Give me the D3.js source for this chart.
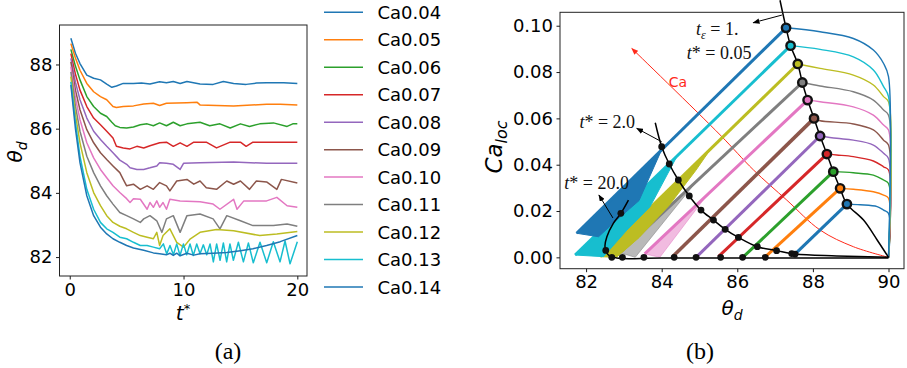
<!DOCTYPE html>
<html>
<head>
<meta charset="utf-8">
<script src="https://cdn.jsdelivr.net/npm/d3@7"></script>
<style>
body { margin: 0; background: #fff; }
svg { font-family: "DejaVu Sans", sans-serif; }
</style>
</head>
<body>
<div id="chart"></div>
<script>
const W = 907, H = 368;

const caLabels = ['Ca0.04', 'Ca0.05', 'Ca0.06', 'Ca0.07', 'Ca0.08', 'Ca0.09', 'Ca0.10', 'Ca0.11', 'Ca0.12', 'Ca0.13', 'Ca0.14'];
const colors = ['#1f77b4', '#ff7f0e', '#2ca02c', '#d62728', '#9467bd', '#8c564b', '#e377c2', '#7f7f7f', '#bcbd22', '#17becf', '#1f77b4'];

// (a) theta_d vs t*   [t*, theta_d]
const th04 = [[0.1,88.82],[0.5,88.35],[0.9,88.03],[1.5,87.67],[2.1,87.57],[2.7,87.52],[3.25,87.39],[3.7,87.29],[4.1,87.33],[4.7,87.41],[5.6,87.41],[6.3,87.42],[7.05,87.39],[7.9,87.46],[8.5,87.43],[9.1,87.47],[9.7,87.41],[10.3,87.47],[11.45,87.39],[12.6,87.38],[13.5,87.47],[14.4,87.41],[15.5,87.38],[16.4,87.42],[17.3,87.43],[18.8,87.43],[20,87.41]];
const th05 = [[0.1,88.65],[0.5,88.2],[0.9,87.82],[1.5,87.41],[2.1,87.15],[2.7,87.0],[3.25,86.9],[3.8,86.69],[4.1,86.66],[4.7,86.69],[5.6,86.71],[6.5,86.77],[7.35,86.79],[7.9,86.72],[8.5,86.79],[10.3,86.81],[11.2,86.82],[11.45,86.74],[14.4,86.71],[17.3,86.76],[18.5,86.76],[20,86.74]];
const th06 = [[0.1,88.47],[0.5,87.95],[0.9,87.52],[1.5,87.0],[2.1,86.69],[2.7,86.48],[3.25,86.38],[3.7,86.2],[4.0,86.09],[4.4,86.04],[5.0,86.02],[5.6,86.05],[6.2,86.12],[6.8,86.15],[7.35,86.09],[7.9,86.18],[8.5,86.09],[9.1,86.2],[9.7,86.09],[10.3,86.15],[11.45,86.2],[12.3,86.09],[13.2,86.15],[14.1,86.02],[15.0,86.15],[15.8,86.07],[16.7,86.15],[17.9,86.18],[19.1,86.07],[19.6,86.15],[20,86.15]];
const th07 = [[0.1,88.34],[0.5,87.7],[0.9,87.2],[1.5,86.69],[2.1,86.33],[2.7,86.12],[3.25,85.92],[3.8,85.71],[4.1,85.45],[4.7,85.4],[5.3,85.37],[5.9,85.45],[6.5,85.4],[7.05,85.47],[7.9,85.56],[8.5,85.58],[9.1,85.45],[9.7,85.56],[10.3,85.45],[10.9,85.58],[12.0,85.58],[12.9,85.4],[14.1,85.58],[15.0,85.58],[15.5,85.45],[16.1,85.58],[20,85.58]];
const th08 = [[0.1,88.19],[0.5,87.45],[0.9,86.9],[1.5,86.33],[2.1,85.92],[2.7,85.66],[3.25,85.45],[3.8,85.25],[4.4,85.02],[5.0,84.89],[5.3,84.78],[5.9,84.73],[6.5,84.73],[7.05,84.78],[7.65,84.84],[7.9,84.94],[8.5,84.92],[9.1,84.89],[9.7,84.73],[10.0,84.92],[11.45,84.94],[14.4,84.96],[17.3,84.92],[20,84.92]];
const th09 = [[0.1,88.08],[0.5,87.2],[0.9,86.59],[1.5,85.97],[2.1,85.56],[2.7,85.25],[3.25,85.04],[3.8,84.84],[4.4,84.63],[4.7,84.42],[5.0,84.22],[5.6,84.27],[6.2,84.11],[6.8,84.22],[7.35,84.11],[7.9,84.32],[8.5,84.22],[8.8,84.06],[9.4,84.37],[10.3,84.42],[10.9,84.27],[11.45,84.37],[12.0,84.16],[12.9,84.11],[13.8,84.37],[14.4,84.27],[15.0,84.37],[15.8,84.11],[16.4,84.37],[17.3,84.34],[18.2,84.11],[18.6,84.42],[20,84.31]];
const th10 = [[0.1,87.93],[0.5,86.95],[0.9,86.28],[1.5,85.56],[2.1,85.09],[2.7,84.73],[3.25,84.47],[3.8,84.22],[4.4,84.01],[5.0,83.82],[5.3,83.7],[5.6,83.82],[6.2,83.8],[6.8,83.49],[7.05,83.7],[7.35,83.55],[7.65,83.75],[7.9,83.55],[8.2,83.7],[8.5,83.49],[8.8,83.8],[9.7,83.75],[11.45,83.72],[12.6,83.65],[13.2,83.49],[14.4,83.8],[14.7,83.49],[15.3,83.75],[17.3,83.75],[18.2,83.86],[19.1,83.6],[20,83.55]];
const th11 = [[0.1,87.77],[0.5,86.7],[0.9,85.92],[1.5,85.14],[2.1,84.63],[2.7,84.22],[3.25,83.91],[3.8,83.65],[4.4,83.39],[5.0,83.29],[5.6,83.19],[6.2,83.08],[6.5,83.19],[7.05,83.29],[7.65,83.13],[8.1,82.77],[8.5,83.19],[9.1,83.29],[9.7,82.77],[10.3,83.29],[11.45,83.34],[12.6,83.19],[13.2,82.88],[13.8,83.29],[15.0,83.13],[16.1,82.98],[17.9,82.98],[19.1,83.03],[20,82.96]];
const th12 = [[0.1,87.62],[0.5,86.45],[0.9,85.56],[1.5,84.63],[2.1,84.01],[2.7,83.6],[3.25,83.29],[3.8,83.08],[4.4,82.96],[5.0,82.88],[5.6,82.77],[6.2,82.67],[6.8,82.62],[7.35,82.57],[7.65,82.77],[7.9,82.36],[8.2,82.67],[8.8,82.88],[9.4,82.46],[10.0,82.31],[10.6,82.57],[11.45,82.77],[12.9,82.86],[14.4,82.82],[16.7,82.67],[18.2,82.72],[20,82.8]];
const th13 = [[0.1,87.46],[0.5,86.2],[0.9,85.14],[1.5,84.11],[2.1,83.49],[2.7,83.08],[3.25,82.88],[3.8,82.77],[4.4,82.62],[5.0,82.57],[5.6,82.46],[6.2,82.36],[6.8,82.36],[7.35,82.31],[7.9,82.26],[8.23,82.41],[8.52,82.1],[8.81,82.36],[9.11,82.07],[9.4,82.41],[9.69,82.05],[9.99,82.41],[10.28,82.07],[10.57,82.41],[10.86,82.05],[11.16,82.41],[11.45,82.1],[11.74,82.38],[12.04,82.07],[12.33,82.41],[12.62,81.85],[12.91,82.41],[13.21,81.9],[13.5,82.44],[13.79,81.85],[14.08,82.41],[14.38,81.9],[14.82,82.46],[15.26,81.85],[15.7,82.44],[16.13,81.82],[16.72,82.46],[17.31,81.82],[17.89,82.48],[18.48,81.85],[18.92,82.5],[19.36,81.79],[20,82.48]];
const th14 = [[0.1,87.36],[0.5,86.0],[0.9,84.94],[1.5,83.91],[2.1,83.29],[2.7,82.93],[3.25,82.72],[3.8,82.57],[4.4,82.46],[5.0,82.36],[5.6,82.28],[6.5,82.21],[7.35,82.13],[7.9,82.1],[8.5,82.07],[8.8,82.12],[9.1,82.05],[9.4,82.12],[9.7,82.04],[10.3,82.12],[10.9,82.06],[11.45,82.1],[12.6,82.12],[13.8,82.14],[15.0,82.2],[16.1,82.26],[17.3,82.36],[18.5,82.48],[20,82.67]];
const thetaSeries = [th04, th05, th06, th07, th08, th09, th10, th11, th12, th13, th14];

// (b) Ca_loc vs theta_d   [theta_d, Ca_loc]
const head04 = [[90,0],[90,0.019],[89.87,0.0204],[89.7,0.0219],[89.25,0.0227],[88.9,0.023]];
const head05 = [[90,0],[90,0.0255],[89.87,0.0269],[89.6,0.0283],[89.07,0.0294],[88.72,0.0298]];
const head06 = [[90,0],[90,0.0319],[89.87,0.0334],[89.6,0.0355],[89.07,0.0365],[88.54,0.037]];
const head07 = [[90,0],[90,0.0377],[89.87,0.0391],[89.6,0.0416],[89.07,0.0435],[88.63,0.0442],[88.37,0.0446]];
const head08 = [[90,0],[90,0.0427],[89.87,0.0449],[89.6,0.0485],[89.07,0.0506],[88.63,0.0514],[88.19,0.0524]];
const head09 = [[90,0],[90,0.0485],[89.87,0.0506],[89.6,0.055],[89.07,0.0576],[88.19,0.059],[88.03,0.06]];
const head10 = [[90,0],[90,0.055],[89.87,0.0571],[89.6,0.0614],[89.07,0.065],[88.19,0.0672],[87.86,0.0679]];
const head11 = [[90,0],[90,0.0614],[89.87,0.0636],[89.6,0.0679],[89.07,0.0715],[88.19,0.074],[87.72,0.0755]];
const head12 = [[90,0],[90,0.0672],[89.87,0.0694],[89.6,0.0744],[89.07,0.0787],[88.19,0.0816],[87.6,0.0835]];
const head13 = [[90,0],[90,0.0694],[89.87,0.0737],[89.6,0.0809],[89.07,0.0866],[88.19,0.0898],[87.41,0.0914]];
const head14 = [[90,0],[90,0.078],[89.87,0.0837],[89.6,0.0895],[89.07,0.0945],[88.19,0.0974],[87.29,0.0991]];
const headCurves = [head04, head05, head06, head07, head08, head09, head10, head11, head12, head13, head14];

// t* = 0.05 markers
const theta005 = [88.9, 88.72, 88.54, 88.37, 88.19, 88.03, 87.86, 87.72, 87.6, 87.41, 87.29];
const ca005 = [0.023, 0.0298, 0.037, 0.0446, 0.0524, 0.06, 0.0679, 0.0755, 0.0835, 0.0914, 0.0991];
// lower end of each diagonal
const thetaEnd = [87.47, 86.74, 86.16, 85.5, 84.93, 84.3, 83.55, 82.9, 82.37, 81.71, 81.75];
const caEnd = [0.0005, 0.0002, 0.0002, 0.0003, 0.0003, 0.0005, 0.0015, 0.002, 0.0003, 0.001, 0.0104];
// scattered bands below the diagonals
const band10 = [[83.55,0.0015],[83.95,0.0],[85.2,0.0269]];
const band11 = [[82.9,0.002],[83.3,0.0],[84.9,0.0324]];
const band12 = [[82.37,0.0003],[82.8,0.0],[83.4,0.0085],[84.2,0.0225],[84.9,0.0375],[85.3,0.0469]];
const band13 = [[81.71,0.001],[82.46,0.0003],[83.08,0.0118],[83.69,0.0218],[84.4,0.0435]];
const band14 = [[81.75,0.0104],[82.33,0.0089],[82.81,0.0161],[83.4,0.0245],[84.0,0.0465]];
const bands = [null, null, null, null, null, null, band10, band11, band12, band13, band14];
const bandAlpha = [0, 0, 0, 0, 0, 0, 0.5, 0.55, 1, 1, 1];

// t* = 2.0 markers and t* = 20.0 markers
const theta2 = [87.53, 87.04, 86.53, 86.03, 85.68, 85.37, 85.04, 84.73, 84.44, 84.2, 84.0];
const ca2 = [0.0014, 0.0029, 0.0046, 0.0086, 0.0121, 0.0161, 0.0204, 0.0265, 0.0334, 0.0403, 0.0478];
const theta20 = [87.44, 86.74, 86.14, 85.56, 84.91, 84.33, 83.53, 82.96, 82.68, 82.52, 82.92];
const ca20 = [0.0016, 0, 0, 0, 0, 0, 0, 0, 0, 0.003, 0.019];

// black iso-time curves
const curve005 = [[87.13,0.111],[87.29,0.0991],[87.41,0.0914],[87.6,0.0835],[87.72,0.0755],[87.86,0.0679],[88.03,0.06],[88.19,0.0524],[88.37,0.0446],[88.54,0.037],[88.72,0.0298],[88.9,0.023],[89.34,0.0161],[89.7,0.0075],[90.0,0.0]];
const curve2 = [[83.83,0.0581],[84.0,0.0478],[84.2,0.0403],[84.44,0.0334],[84.73,0.0265],[85.04,0.0204],[85.37,0.0161],[85.68,0.0121],[86.03,0.0086],[86.53,0.0046],[87.04,0.0029],[87.53,0.0014],[88.63,0.0006],[90,0]];
const curve20 = [[83.12,0.0247],[82.92,0.019],[82.72,0.0147],[82.55,0.0089],[82.5,0.0046],[82.59,0.001],[82.81,-0.0003],[84,-0.0003],[90,-0.0003]];
const caArrow = [[90,0],[89.07,0.0046],[88.19,0.0118],[87.31,0.0247],[86.43,0.0377],[85.55,0.0528],[83.21,0.0902]];

const xTicksA = [0, 10, 20];
const yTicksA = [82, 84, 86, 88];
const xTicksB = [82, 84, 86, 88, 90];
const yTicksB = [0, 0.02, 0.04, 0.06, 0.08, 0.10];

const svg = d3.select('#chart').append('svg')
    .attr('width', W)
    .attr('height', H)

const defs = svg.append('defs')
function arrowHead(id, col) {
    defs.append('marker')
        .attr('id', id)
        .attr('viewBox', '0 0 10 8')
        .attr('refX', 9).attr('refY', 4)
        .attr('markerWidth', 7).attr('markerHeight', 5.6)
        .attr('markerUnits', 'userSpaceOnUse')
        .attr('orient', 'auto')
        .append('path')
        .attr('d', 'M0,0 L10,4 L0,8 z')
        .attr('fill', col)
}
arrowHead('ahBlack', '#000')
arrowHead('ahRed', '#ff2a1a')

function styleAxis(g) {
    g.selectAll('.domain').remove()
    g.selectAll('line').attr('stroke', '#000').attr('stroke-width', 0.9)
    g.selectAll('text').attr('font-size', '18px').attr('fill', '#000')
        .attr('font-family', '"DejaVu Sans", sans-serif')
}

// ---------- panel (a)
const xa = d3.scaleLinear().domain([-0.9, 20.85]).range([59.5, 307]);
const ya = d3.scaleLinear().domain([81.41, 89.23]).range([276, 25]);

const gA = svg.append('g')
const lineA = d3.line().x(d => xa(d[0])).y(d => ya(d[1]))

gA.selectAll('.ser')
    .data(thetaSeries)
    .enter()
    .append('path')
    .attr('d', lineA)
    .attr('fill', 'none')
    .attr('stroke', (d, i) => colors[i])
    .attr('stroke-width', 1.5)
    .attr('stroke-linejoin', 'round')

gA.append('g').attr('transform', 'translate(0,276)')
    .call(d3.axisBottom(xa).tickValues(xTicksA).tickSize(3.5).tickPadding(3.5))
    .call(styleAxis)
gA.append('g').attr('transform', 'translate(59.5,0)')
    .call(d3.axisLeft(ya).tickValues(yTicksA).tickSize(3.5).tickPadding(3.5))
    .call(styleAxis)
gA.append('rect')
    .attr('x', 59.5).attr('y', 25).attr('width', 307 - 59.5).attr('height', 276 - 25)
    .attr('fill', 'none').attr('stroke', '#222').attr('stroke-width', 1)

// axis labels (a)
const lblA = gA.append('text').attr('transform', 'translate(22,152) rotate(-90)')
    .attr('text-anchor', 'middle').attr('font-size', '20px')
lblA.append('tspan').attr('font-style', 'italic').text('θ')
lblA.append('tspan').attr('font-style', 'italic').attr('font-size', '14px').attr('dy', 5).text('d')

const lblT = gA.append('text').attr('x', 183).attr('y', 320)
    .attr('text-anchor', 'middle').attr('font-size', '20px')
lblT.append('tspan').attr('font-style', 'italic').text('t')
lblT.append('tspan').attr('font-size', '13px').attr('dy', -7).text('*')

// legend
const leg = svg.append('g')
caLabels.forEach((lab, i) => {
    const yy = 12.3 + i * 27.47
    leg.append('line').attr('x1', 324).attr('x2', 363).attr('y1', yy).attr('y2', yy)
        .attr('stroke', colors[i]).attr('stroke-width', 1.5)
    leg.append('text').attr('x', 377.5).attr('y', yy + 6.6)
        .attr('font-size', '18px').attr('fill', '#000').text(lab)
})

// ---------- panel (b)
const xb = d3.scaleLinear().domain([81.31, 90.41]).range([560, 904]);
const yb = d3.scaleLinear().domain([-0.0049, 0.1058]).range([268.7, 12.3]);
const gB = svg.append('g')
const lineB = d3.line().x(d => xb(d[0])).y(d => yb(d[1]))
const smoothB = d3.line().x(d => xb(d[0])).y(d => yb(d[1])).curve(d3.curveCatmullRom)

// red Ca arrow
gB.append('path')
    .attr('d', smoothB(caArrow))
    .attr('fill', 'none').attr('stroke', '#ff2a1a').attr('stroke-width', 1)
    .attr('marker-end', 'url(#ahRed)')

thetaSeries.forEach((s, i) => {
    // thin head from the wall to the t*=0.05 point
    gB.append('path')
        .attr('d', smoothB(headCurves[i]))
        .attr('fill', 'none').attr('stroke', colors[i]).attr('stroke-width', 1.4)
    if (bands[i]) {
        gB.append('path')
            .attr('d', lineB(bands[i]) + 'Z')
            .attr('fill', colors[i]).attr('fill-opacity', bandAlpha[i])
            .attr('stroke', colors[i]).attr('stroke-opacity', bandAlpha[i]).attr('stroke-width', 1)
    }
    gB.append('path')
        .attr('d', lineB([[theta005[i], ca005[i]], [thetaEnd[i], caEnd[i]]]))
        .attr('fill', 'none').attr('stroke', colors[i])
        .attr('stroke-width', i === 5 ? 3.6 : 3)
})

// black iso-time curves
;[curve005, curve2, curve20].forEach(c => {
    gB.append('path')
        .attr('d', smoothB(c))
        .attr('fill', 'none').attr('stroke', '#000').attr('stroke-width', 1.5)
})

// markers
gB.selectAll('.m2')
    .data(theta2)
    .enter()
    .append('circle')
    .attr('cx', d => xb(d))
    .attr('cy', (d, i) => yb(ca2[i]))
    .attr('r', 3.4)
    .attr('fill', '#111')
gB.selectAll('.m20')
    .data(theta20)
    .enter()
    .append('circle')
    .attr('cx', d => xb(d))
    .attr('cy', (d, i) => yb(ca20[i]))
    .attr('r', 3.4)
    .attr('fill', '#111')
gB.selectAll('.m005')
    .data(theta005)
    .enter()
    .append('circle')
    .attr('cx', d => xb(d))
    .attr('cy', (d, i) => yb(ca005[i]))
    .attr('r', 4.2)
    .attr('fill', (d, i) => colors[i])
    .attr('stroke', '#111').attr('stroke-width', 2.4)

// axes (b)
gB.append('g').attr('transform', 'translate(0,268.7)')
    .call(d3.axisBottom(xb).tickValues(xTicksB).tickSize(3.5).tickPadding(3.5))
    .call(styleAxis)
gB.append('g').attr('transform', 'translate(560,0)')
    .call(d3.axisLeft(yb).tickValues(yTicksB).tickFormat(d3.format('.2f')).tickSize(3.5).tickPadding(3.5))
    .call(styleAxis)
gB.append('rect')
    .attr('x', 560).attr('y', 12.3).attr('width', 904 - 560).attr('height', 268.7 - 12.3)
    .attr('fill', 'none').attr('stroke', '#222').attr('stroke-width', 1)

// annotations
const annots = [
    { main: 't', sub: 'ε', rest: ' = 1.', at: [85.47, 0.0986], from: [87.18, 0.1046], to: [86.42, 0.1013] },
    { main: 't', sup: '*', rest: ' = 0.05', at: [85.52, 0.0882] },
    { main: 't', sup: '*', rest: ' = 2.0', at: [82.56, 0.0585], from: [84.0, 0.0499], to: [83.34, 0.0557] },
    { main: 't', sup: '*', rest: ' = 20.0', at: [82.28, 0.0321], from: [82.71, 0.017], to: [82.34, 0.0269] }
]
annots.forEach(a => {
    const t = gB.append('text')
        .attr('x', xb(a.at[0])).attr('y', yb(a.at[1]) + 6)
        .attr('text-anchor', 'middle')
        .attr('font-family', '"Liberation Serif", serif')
        .attr('font-size', '18px').attr('fill', '#111')
    t.append('tspan').attr('font-style', 'italic').text(a.main)
    if (a.sub) {
        t.append('tspan').attr('font-style', 'italic').attr('font-size', '12px').attr('dy', 4).text(a.sub)
        t.append('tspan').attr('dy', -4).text(a.rest)
    } else {
        t.append('tspan').text(a.sup + a.rest)
    }
    if (a.from) {
        gB.append('line')
            .attr('x1', xb(a.from[0])).attr('y1', yb(a.from[1]))
            .attr('x2', xb(a.to[0])).attr('y2', yb(a.to[1]))
            .attr('stroke', '#000').attr('stroke-width', 1)
            .attr('marker-end', 'url(#ahBlack)')
    }
})
gB.append('text')
    .attr('x', xb(84.43)).attr('y', yb(0.0757) + 5)
    .attr('text-anchor', 'middle').attr('font-size', '14px').attr('fill', '#ff2a1a')
    .text('Ca')

// axis labels (b)
const lblB = gB.append('text').attr('transform', 'translate(502,147) rotate(-90)')
    .attr('text-anchor', 'middle').attr('font-size', '23px')
lblB.append('tspan').attr('font-style', 'italic').text('Ca')
lblB.append('tspan').attr('font-style', 'italic').attr('font-size', '16px').attr('dy', 5).text('loc')

const lblX = gB.append('text').attr('x', 732).attr('y', 315)
    .attr('text-anchor', 'middle').attr('font-size', '20px')
lblX.append('tspan').attr('font-style', 'italic').text('θ')
lblX.append('tspan').attr('font-style', 'italic').attr('font-size', '14px').attr('dy', 5).text('d')

// sub-figure captions
svg.append('text').attr('x', 228).attr('y', 359).attr('text-anchor', 'middle')
    .attr('font-family', '"Liberation Serif", serif').attr('font-size', '24px').text('(a)')
svg.append('text').attr('x', 700).attr('y', 359).attr('text-anchor', 'middle')
    .attr('font-family', '"Liberation Serif", serif').attr('font-size', '24px').text('(b)')
</script>
</body>
</html>
